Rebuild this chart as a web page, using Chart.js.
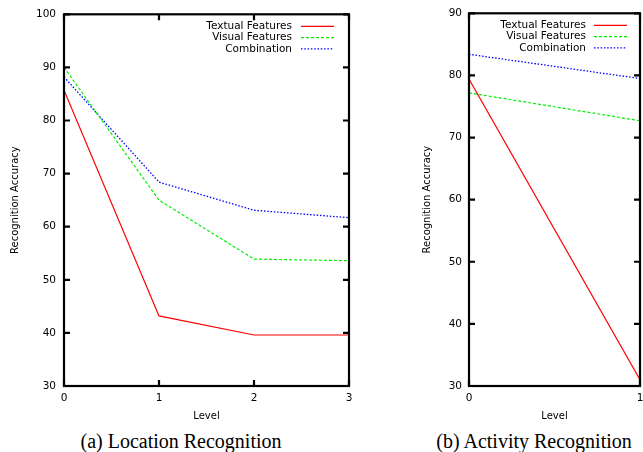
<!DOCTYPE html>
<html>
<head>
<meta charset="utf-8">
<title>Recognition accuracy by level</title>
<script src="https://cdn.jsdelivr.net/npm/chart.js@4.4.0/dist/chart.umd.min.js"></script>
<style>
  body { margin: 0; background: #fff; }
  #page { position: relative; width: 643px; height: 452px; overflow: hidden; background: #fff; }
  canvas { position: absolute; top: 0; }
  .caption {
    position: absolute; top: 431px; width: 240px; line-height: 20px;
    font-family: "Liberation Serif", "Times New Roman", serif; font-size: 20px;
    text-align: center; white-space: nowrap; color: #000;
  }
</style>
</head>
<body>
<div id="page">
  <canvas id="locChart" width="365" height="430" style="left:0"></canvas>
  <canvas id="actChart" width="263" height="430" style="left:380px"></canvas>
  <div class="caption" style="left:61px">(a) Location Recognition</div>
  <div class="caption" style="left:414px">(b) Activity Recognition</div>
</div>
<script>
// values
const seriesNames = ['Textual Features', 'Visual Features', 'Combination'];

const locLevels = [0, 1, 2, 3];
const locTextual = [85.7, 43.2, 39.6, 39.6];
const locVisual = [90.0, 65.0, 53.9, 53.6];
const locCombination = [88.2, 68.4, 63.1, 61.7];

const actLevels = [0, 1];
const actTextual = [79.4, 31.0];
const actVisual = [77.2, 72.7];
const actCombination = [83.4, 79.5];

const locRange = [30, 100];
const actRange = [30, 90];

Chart.defaults.font.family = '"DejaVu Sans", sans-serif';
Chart.defaults.font.size = 10.5;
Chart.defaults.color = '#000';

const seriesStyle = [
  { borderColor: '#ff0000', borderWidth: 1.2, borderDash: [] },
  { borderColor: '#00f000', borderWidth: 1.2, borderDash: [3, 2] },
  { borderColor: '#0000ff', borderWidth: 1.3, borderDash: [1.5, 1.8] }
];

// gnuplot-like box with inward tick marks on all four sides
const framePlugin = {
  id: 'frame',
  afterDatasetsDraw(chart) {
    const { ctx, chartArea: a, scales: { x, y } } = chart;
    ctx.save();
    ctx.strokeStyle = '#000';
    ctx.lineWidth = 2.2;
    ctx.beginPath();
    y.ticks.forEach(t => {
      const py = y.getPixelForValue(t.value);
      ctx.moveTo(a.left, py); ctx.lineTo(a.left + 6, py);
      ctx.moveTo(a.right, py); ctx.lineTo(a.right - 6, py);
    });
    x.ticks.forEach(t => {
      const px = x.getPixelForValue(t.value);
      ctx.moveTo(px, a.bottom); ctx.lineTo(px, a.bottom - 6);
      ctx.moveTo(px, a.top); ctx.lineTo(px, a.top + 6);
    });
    ctx.stroke();
    ctx.strokeRect(a.left, a.top, a.right - a.left, a.bottom - a.top);
    ctx.restore();
  }
};

// key in the top right corner: right-aligned text, then the line sample
const keyPlugin = {
  id: 'key',
  afterDraw(chart, args, opts) {
    const { ctx, chartArea: a } = chart;
    ctx.save();
    ctx.font = '10.5px "DejaVu Sans", sans-serif';
    ctx.textAlign = 'right';
    ctx.textBaseline = 'middle';
    ctx.fillStyle = '#000';
    chart.data.datasets.forEach((ds, i) => {
      const yy = a.top + 12 + i * 11.3;
      const x1 = a.right - opts.inset;
      const x0 = x1 - 33;
      ctx.fillText(ds.label, x0 - opts.gap, yy);
      ctx.strokeStyle = ds.borderColor;
      ctx.lineWidth = ds.borderWidth;
      ctx.setLineDash(ds.borderDash);
      ctx.beginPath();
      ctx.moveTo(x0, yy);
      ctx.lineTo(x1, yy);
      ctx.stroke();
      ctx.setLineDash([]);
    });
    ctx.restore();
  }
};

function makeDatasets(levels, lists) {
  return lists.map((vals, i) => ({
    label: seriesNames[i],
    data: levels.map((lv, j) => ({ x: lv, y: vals[j] })),
    ...seriesStyle[i],
    pointRadius: 0,
    tension: 0,
    fill: false
  }));
}

function makeChart(id, levels, lists, range, dims) {
  new Chart(document.getElementById(id), {
    type: 'line',
    data: { datasets: makeDatasets(levels, lists) },
    plugins: [framePlugin, keyPlugin],
    options: {
      responsive: false,
      animation: false,
      devicePixelRatio: 1,
      layout: { padding: { left: 0, right: dims.right, top: 12, bottom: 0 } },
      plugins: {
        legend: { display: false },
        tooltip: { enabled: false },
        key: { inset: dims.inset, gap: dims.gap }
      },
      scales: {
        x: {
          type: 'linear',
          min: levels[0],
          max: levels[levels.length - 1],
          ticks: { stepSize: 1, padding: 6, maxRotation: 0 },
          grid: { display: false, drawTicks: false },
          border: { display: false },
          title: { display: true, text: 'Level', font: { size: 10 }, padding: { top: 0, bottom: 7.5 } },
          afterFit(s) {
            s.height = 44;
            // let the last tick label hang over the edge, as in the figure
            s.paddingLeft = 0;
            s.paddingRight = 0;
          }
        },
        y: {
          min: range[0],
          max: range[1],
          ticks: { stepSize: 10, padding: dims.tickPad },
          grid: { display: false, drawTicks: false },
          border: { display: false },
          title: { display: true, text: 'Recognition Accuracy', font: { size: 10 }, padding: { top: dims.titlePad, bottom: 0 } },
          afterFit(s) { s.width = dims.axisWidth; }
        }
      }
    }
  });
}

makeChart('locChart', locLevels, [locTextual, locVisual, locCombination], locRange,
  { right: 16, axisWidth: 64, tickPad: 8, titlePad: 9.5, inset: 15, gap: 9 });
makeChart('actChart', actLevels, [actTextual, actVisual, actCombination], actRange,
  { right: 3, axisWidth: 89, tickPad: 7, titlePad: 41, inset: 13, gap: 8 });
</script>
</body>
</html>
